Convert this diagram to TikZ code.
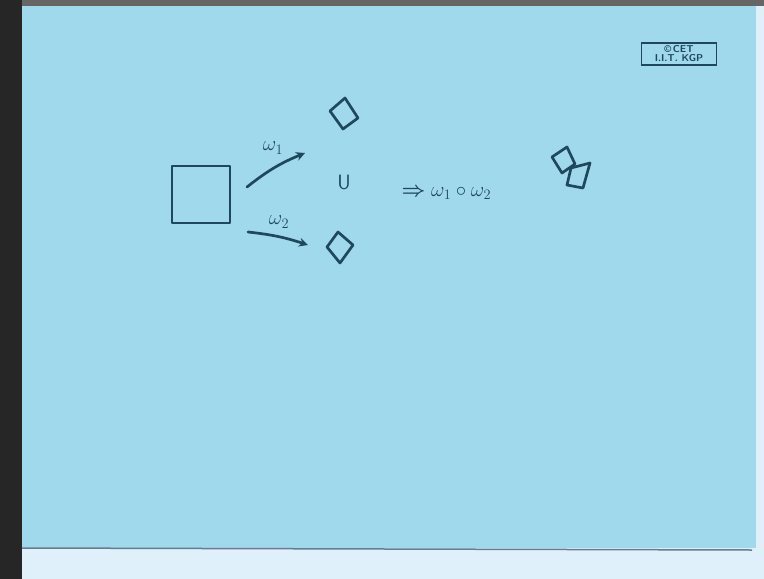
\documentclass[tikz,border=0pt]{standalone}
\usepackage{amsmath,amssymb}
\usepackage{tikz}
\usetikzlibrary{arrows.meta}

\definecolor{sheet}{RGB}{160,216,236}
\definecolor{ink}{RGB}{32,72,92}
\definecolor{floor}{RGB}{224,240,250}

\tikzset{pen/.style={ink,line width=2.7pt,line join=round,line cap=round}}

\begin{document}
\begin{tikzpicture}[x=1pt,y=-1pt,>=stealth, every node/.style={text=ink,font=\fontsize{22}{24}\selectfont}]
\useasboundingbox (0,0) rectangle (764,579);
% background of the photo
\fill[floor] (0,0) rectangle (764,579);
\fill[sheet] (22,6) rectangle (756,548);
\fill[black!85] (0,0) rectangle (22,579);
\fill[black!60] (22,0) rectangle (764,6);
\draw[ink!70,line width=1.5pt] (22,548) -- (752,550);
% logo
\node[draw=ink,line width=1.2pt,minimum width=75pt,minimum height=22pt,inner sep=1pt,align=center,font=\sffamily\bfseries\fontsize{10}{9}\selectfont] (logo) at (679,54) {\textcopyright\,CET\\I.I.T. KGP};
% original square
\draw[pen] (172,166) rectangle (230,223);
\coordinate (a1) at (247,187);
\coordinate (b1) at (305,153);
\coordinate (a2) at (248,232);
\coordinate (b2) at (308,245);
\draw[pen,-{Stealth[length=9pt,width=9pt]}] (a1) to[bend left=8] (b1);
\draw[pen,-{Stealth[length=9pt,width=9pt]}] (a2) to[bend left=6] (b2);
\node (w1) at (273,148) {$\omega_1$};
\node (w2) at (279,222) {$\omega_2$};
% rotated copies
\draw[pen] (330,111) -- (345,98) -- (358,118) -- (343,129) -- cycle;
\draw[pen] (327,247) -- (338,232) -- (353,245) -- (340,263) -- cycle;
\node (un) at (344,182) {$\mathsf{U}$};
\node[anchor=west] (res) at (398,193) {$\boldsymbol{\Rightarrow} \omega_1\circ\omega_2$};
% combined
\draw[pen] (552,157) -- (567,147) -- (575,164) -- (562,173) -- cycle;
\draw[pen] (571,168) -- (590,163) -- (583,188) -- (567,185) -- cycle;
\end{tikzpicture}
\end{document}
